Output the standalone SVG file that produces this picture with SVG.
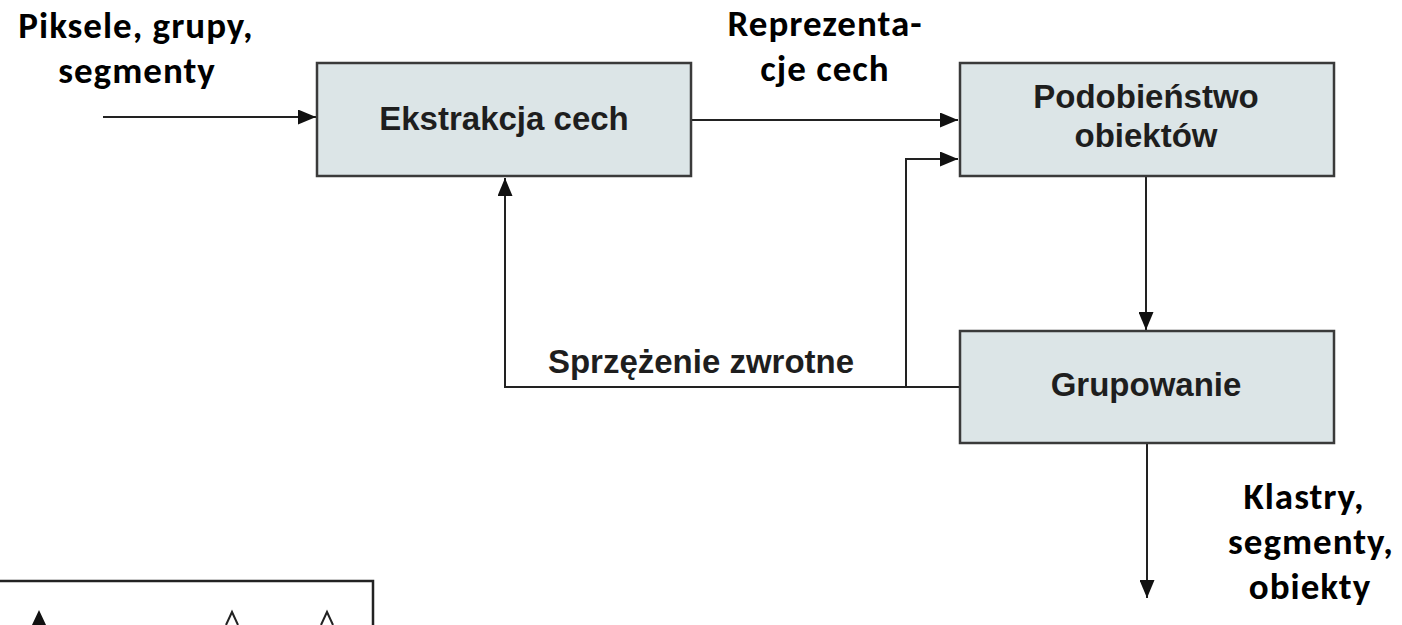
<svg xmlns="http://www.w3.org/2000/svg" width="1402" height="625" viewBox="0 0 1402 625">
<style>
.box{fill:#dce5e7;stroke:#3a3a3a;stroke-width:2.5}
.bt{font-family:"Liberation Sans",Arial,sans-serif;font-weight:bold;font-size:33px;fill:#1e1e1e;text-anchor:middle}
.lbl{font-family:Carlito,Lato,"Open Sans",sans-serif;font-weight:bold;font-size:37px;letter-spacing:1px;fill:#000;text-anchor:middle}
.con{fill:none;stroke:#222;stroke-width:2}
</style>
<defs>
<marker id="ah" viewBox="0 0 18 15" refX="18" refY="7.5" markerWidth="18" markerHeight="15" markerUnits="userSpaceOnUse" orient="auto">
<path d="M0,0 L18,7.5 L0,15 Z" fill="#111"/>
</marker>
</defs>
<rect width="1402" height="625" fill="#fff"/>
<g id="connectors">
<path class="con" d="M103,117 H316" marker-end="url(#ah)"/>
<path class="con" d="M691,120 H958" marker-end="url(#ah)"/>
<path class="con" d="M906,387 V159 H958" marker-end="url(#ah)"/>
<path class="con" d="M959,387 H505 V178" marker-end="url(#ah)"/>
<path class="con" d="M1146,176 V330" marker-end="url(#ah)"/>
<path class="con" d="M1147,443 V598" marker-end="url(#ah)"/>
</g>
<g id="node-ekstrakcja">
<rect class="box" x="317" y="63" width="374" height="113"/>
<text class="bt" x="504" y="130">Ekstrakcja cech</text>
</g>
<g id="node-podobienstwo">
<rect class="box" x="960" y="63" width="374" height="113"/>
<text class="bt" x="1146" y="108">Podobieństwo</text>
<text class="bt" x="1146" y="147">obiektów</text>
</g>
<g id="node-grupowanie">
<rect class="box" x="960" y="331" width="374" height="112"/>
<text class="bt" x="1146" y="396">Grupowanie</text>
</g>
<g id="labels">
<text class="lbl" x="136" y="38">Piksele, grupy,</text>
<text class="lbl" x="137" y="83">segmenty</text>
<text class="lbl" x="825" y="36">Reprezenta-</text>
<text class="lbl" x="825" y="81">cje cech</text>
<text class="bt" x="701" y="373">Sprzężenie zwrotne</text>
<text class="lbl" x="1304" y="509">Klastry,</text>
<text class="lbl" x="1311" y="554">segmenty,</text>
<text class="lbl" x="1310" y="599">obiekty</text>
</g>
<g id="partial-figure">
<path d="M0,581 H373 V625" fill="none" stroke="#222" stroke-width="2.5"/>
<path d="M32,625 L39,610 L46,625 Z" fill="#111"/>
<path d="M226,625 L232,612 L238,625" fill="none" stroke="#222" stroke-width="2"/>
<path d="M321,625 L327,612 L333,625" fill="none" stroke="#222" stroke-width="2"/>
</g>
</svg>
